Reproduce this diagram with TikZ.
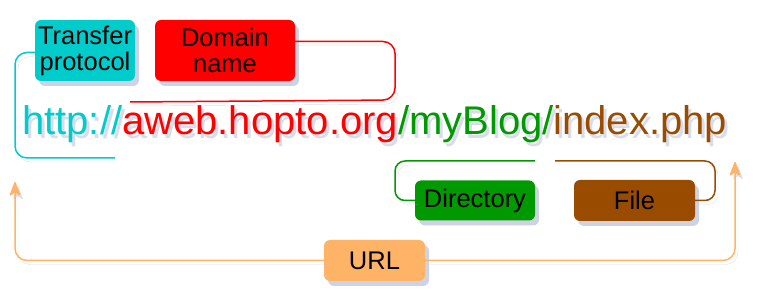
\documentclass[tikz,border=0pt]{standalone}
\usepackage{fontspec}
\setmainfont{Liberation Sans}
\usepackage{xcolor}
\usepackage{tikz}
\usetikzlibrary{positioning,arrows.meta,shadows}
\definecolor{proto}{HTML}{00CCCC}
\definecolor{hostred}{HTML}{FF0000}
\definecolor{dirgreen}{HTML}{009900}
\definecolor{filebrown}{HTML}{994C00}
\definecolor{urlorange}{HTML}{FFB366}
\definecolor{shadowgray}{HTML}{B9C0D8}

\tikzset{
  part/.style={rounded corners=6pt,inner sep=0pt,align=center,text=black,
    font=\fontsize{25.5}{26}\selectfont,
    drop shadow={shadow xshift=4pt,shadow yshift=-5pt,fill=shadowgray,opacity=.7}},
  brace/.style={line width=1.5pt,rounded corners=12pt,
    preaction={draw=shadowgray,opacity=.5,transform canvas={shift={(3pt,-4pt)}}}},
  big/.style={anchor=base west,inner sep=0pt,font=\fontsize{40}{44}\selectfont},
}

\begin{document}
\begin{tikzpicture}[x=1pt,y=-1pt]
      \useasboundingbox (0,0) rectangle (774,304);
      \node[part,fill=proto,minimum width=100pt,minimum height=61pt] (tp) at (85,50.5) {Transfer\\protocol};
      \node[part,fill=hostred,minimum width=140pt,minimum height=61pt] (dom) at (225,50.5) {Domain\\name};
      \node[big,text=shadowgray,opacity=.55] (urlshade) at (25,139) {http://aweb.hopto.org/myBlog/index.php};
      \node[big] (url) at (22,135)
        {\textcolor{proto}{http://}\textcolor{hostred}{aweb.hopto.org}\textcolor{dirgreen}{/myBlog/}\textcolor{filebrown}{index.php}};
      \node[part,fill=dirgreen,minimum width=120pt,minimum height=40pt] (dir) at (475,200.5) {Directory};
      \node[part,fill=filebrown,minimum width=121pt,minimum height=41pt] (file) at (634.5,200.5) {File};
      \node[part,fill=urlorange,minimum width=101pt,minimum height=41pt] (urlbox) at (374.5,260.5) {URL};
      \coordinate (tpend) at (115,158);
      \coordinate (domend) at (130,102);
      \coordinate (dirend) at (535,161);
      \coordinate (fileend) at (555,161);
      \coordinate (leftend) at (15,182);
      \coordinate (rightend) at (735,162);
      \draw[brace,proto] ([yshift=-2pt]tp.west) -- (15,52.5) -- (15,158) -- (tpend);
      \draw[brace,hostred] ([yshift=9pt]dom.east) -- (395,41.5) -- (395,100) -- (domend);
      \draw[brace,dirgreen,rounded corners=10pt] (dir.west) -- (395,200.5) -- (395,161) -- (dirend);
      \draw[brace,filebrown,rounded corners=10pt] (file.east) -- (715,200.5) -- (715,161) -- (fileend);
      \draw[brace,urlorange,-{Stealth[length=16pt,width=12pt,inset=4pt,round]}] (urlbox.west) -- (15,260.5) -- (leftend);
      \draw[brace,urlorange,-{Stealth[length=16pt,width=12pt,inset=4pt,round]}] (urlbox.east) -- (735,260.5) -- (rightend);
    \end{tikzpicture}
\end{document}
